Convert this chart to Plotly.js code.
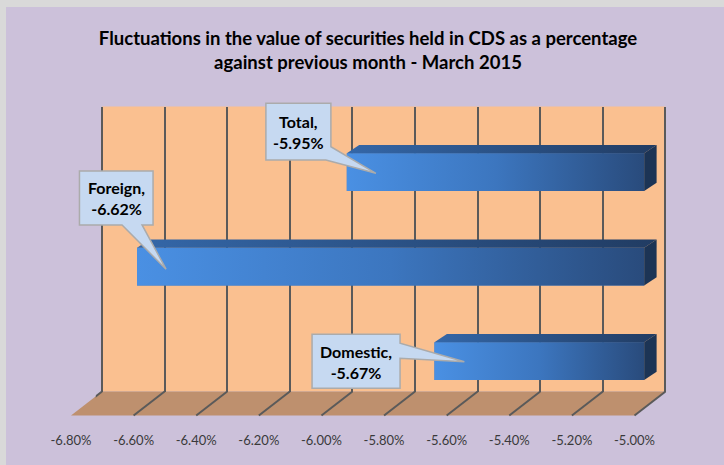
<!DOCTYPE html>
<html><head><meta charset="utf-8">
<script src="https://cdn.plot.ly/plotly-3.0.1.min.js"></script>
<style>html,body{margin:0;padding:0;background:#D9D9D9;}#chart{width:724px;height:465px;}</style>
</head><body><div id="chart"></div>
<script>
// ---- data ----
const categories = ['Domestic', 'Foreign', 'Total'];
const values = [-5.67, -6.62, -5.95];
const tickValues = [-6.8, -6.6, -6.4, -6.2, -6.0, -5.8, -5.6, -5.4, -5.2, -5.0];
const tickLabels = ['-6.80%', '-6.60%', '-6.40%', '-6.20%', '-6.00%', '-5.80%', '-5.60%', '-5.40%', '-5.20%', '-5.00%'];
const titleText = 'Fluctuations in the value of securities held in CDS as a percentage<br>against previous month - March 2015';

// ---- geometry / style (pixels) ----
const W = 724, H = 465;
const fx = p => p / W, fy = p => 1 - p / H;
const XMIN = tickValues[0], XMAX = tickValues[tickValues.length - 1];
const BASE = XMAX;
const WALL = {x0: 102, x1: 665.5, top: 106.5, bottom: 391.5};
const FLOOR = {dx: -31, front: 415.5};
const BARFACE_DX = -21.3;
const DEPTH = {dx: 12.4, dy: 8.3};
const CAT0_PX = 361.2;      // pixel row of first category centre
const PPC = 94.5;           // pixels per category step
const BAR_WIDTH = 0.40;
const PPU = (WALL.x1 - WALL.x0) / (XMAX - XMIN);
const EPS = 0.02;
const PAD = 0.1;
const YRANGE = [-0.6, 3.0];
const faceX = v => WALL.x0 + BARFACE_DX + (v - XMIN) * PPU;
const catY = p => CAT0_PX - p * PPC;

const FONT = 'Lato, "Open Sans", sans-serif';
const GRID = '#5A5A5A';

// callout outlines (px relative to bar's left-centre, y up) and text centres
const calloutPaths = [
  [[-122.4,26.9],[-34.4,26.9],[-34.4,17.9],[29.9,-0.5],[-34.4,2.9],[-34.4,-27.1],[-122.4,-27.1]],
  [[-57.6,95.8],[16,95.8],[16,41.8],[5,41.8],[29,-2.5],[-15,41.8],[-57.6,41.8]],
  [[-80.9,68.9],[-15.9,68.9],[-15.9,25.5],[29.1,-1.1],[-20.9,12.2],[-80.9,12.2]]
];
const calloutText = [[-78.4,-0.6],[-20.8,68.3],[-48.4,40.0]];

const positions = categories.map((c, i) => i);
const ddx = DEPTH.dx / PPU, ddy = DEPTH.dy / PPC;

const traces = [
  {type:'scatter', x:[], y:[], xaxis:'x', yaxis:'y', hoverinfo:'skip', showlegend:false},
  {type:'scatter', x:[], y:[], xaxis:'x2', yaxis:'y2', hoverinfo:'skip', showlegend:false},
  {type:'bar', orientation:'h', y: positions, x: values.map(v => v - BASE), base: BASE,
   width: BAR_WIDTH, xaxis:'x3', yaxis:'y3', marker:{color:'#3D76BE', line:{width:0}},
   text: categories, hoverinfo:'text', textposition:'none', showlegend:false}
];
values.forEach((v, i) => {
  const p = positions[i], yb = p - BAR_WIDTH / 2, yt = p + BAR_WIDTH / 2;
  traces.push({type:'scatter', mode:'lines', xaxis:'x3', yaxis:'y3', line:{width:0}, hoverinfo:'skip', showlegend:false,
    x:[v, BASE, BASE, v, v], y:[yb, yb, yt, yt, yb], fill:'toself',
    fillgradient:{type:'horizontal', colorscale:[[0,'#4A90E3'],[0.5,'#3C76BF'],[1,'#294B7C']]}});
  traces.push({type:'scatter', mode:'lines', xaxis:'x3', yaxis:'y3', line:{width:0}, hoverinfo:'skip', showlegend:false,
    x:[v, v+ddx, BASE+ddx, BASE, v], y:[yt, yt+ddy, yt+ddy, yt, yt], fill:'toself',
    fillgradient:{type:'horizontal', colorscale:[[0,'#3467A8'],[1,'#213C63']]}});
  traces.push({type:'scatter', mode:'lines', xaxis:'x3', yaxis:'y3', line:{width:0}, hoverinfo:'skip', showlegend:false,
    x:[BASE, BASE+ddx, BASE+ddx, BASE, BASE], y:[yt, yt+ddy, yb+ddy, yb, yt], fill:'toself', fillcolor:'#1C3455'});
});

const shapes = [
  {type:'rect', xref:'paper', yref:'paper', x0:fx(6), x1:1, y0:0, y1:fy(7), fillcolor:'#CCC1DA', line:{width:0}, layer:'below'},
  {type:'rect', xref:'x2', yref:'y2 domain', x0:XMIN, x1:XMAX, y0:0, y1:1, fillcolor:'#FAC090', line:{width:0}, layer:'below'},
  {type:'path', xref:'paper', yref:'paper', layer:'below', fillcolor:'#BE906E', line:{width:0},
   path:`M ${fx(WALL.x0)},${fy(WALL.bottom)} L ${fx(WALL.x1)},${fy(WALL.bottom)} L ${fx(WALL.x1 + FLOOR.dx)},${fy(FLOOR.front)} L ${fx(WALL.x0 + FLOOR.dx)},${fy(FLOOR.front)} Z`}
];
tickValues.forEach(t => shapes.push({type:'line', xref:'x2', yref:'paper', layer:'below',
  xsizemode:'pixel', xanchor:t, x0:0, x1:FLOOR.dx, y0:fy(WALL.bottom), y1:fy(FLOOR.front),
  line:{color:GRID, width:2}}));

const annotations = [];
values.forEach((v, i) => {
  const pts = calloutPaths[i];
  shapes.push({type:'path', xref:'x3', yref:'y3', xsizemode:'pixel', ysizemode:'pixel',
    xanchor:v, yanchor:positions[i], layer:'above', fillcolor:'#C6D9F1', line:{color:'#ABABAB', width:1.5},
    path:'M ' + pts.map(q => q[0] + ',' + q[1]).join(' L ') + ' Z'});
  annotations.push({xref:'x3', yref:'y3', x:v, y:positions[i], xshift:calloutText[i][0], yshift:calloutText[i][1],
    showarrow:false, align:'center', text:`<b>${categories[i]},<br>${v.toFixed(2)}%</b>`,
    font:{family:FONT, size:16, color:'#000000'}});
});

const layout = {
  width:W, height:H, margin:{l:0, r:0, t:0, b:0, pad:0},
  paper_bgcolor:'#D9D9D9', plot_bgcolor:'rgba(0,0,0,0)', showlegend:false,
  title:{text:`<b>${titleText}</b>`, font:{family:FONT, size:18.5, color:'#000000'},
    x:fx(368), xanchor:'center', xref:'container', y:fy(45), yanchor:'top', yref:'container'},
  xaxis:{domain:[fx(WALL.x0 + FLOOR.dx - EPS*PPU), fx(WALL.x1 + FLOOR.dx + EPS*PPU)], range:[XMIN-EPS, XMAX+EPS], anchor:'y',
    tickmode:'array', tickvals:tickValues, ticktext:tickLabels, ticks:'', showgrid:false, zeroline:false, showline:false,
    ticklabelstandoff:15, tickfont:{family:FONT, size:13, color:'#3A3A3A'}, fixedrange:true},
  yaxis:{domain:[fy(FLOOR.front), fy(FLOOR.front - 10)], range:[0,1], anchor:'x', showgrid:false, zeroline:false,
    showticklabels:false, ticks:'', fixedrange:true},
  xaxis2:{domain:[fx(WALL.x0 - EPS*PPU), fx(WALL.x1 + EPS*PPU)], range:[XMIN-EPS, XMAX+EPS], anchor:'y2',
    tickmode:'array', tickvals:tickValues, showticklabels:false, ticks:'', showgrid:true, gridcolor:GRID, gridwidth:2,
    zeroline:false, showline:false, fixedrange:true},
  yaxis2:{domain:[fy(WALL.bottom), fy(WALL.top)], range:[0,1], anchor:'x2', showgrid:false, zeroline:false,
    showticklabels:false, ticks:'', fixedrange:true},
  xaxis3:{domain:[fx(faceX(XMIN - PAD)), fx(faceX(XMAX + PAD))], range:[XMIN - PAD, XMAX + PAD], anchor:'y3',
    showgrid:false, zeroline:false, showline:false, showticklabels:false, ticks:'', fixedrange:true},
  yaxis3:{domain:[fy(catY(YRANGE[0])), fy(catY(YRANGE[1]))], range:YRANGE, anchor:'x3',
    showgrid:false, zeroline:false, showline:false, showticklabels:false, ticks:'', fixedrange:true},
  shapes:shapes, annotations:annotations
};

Plotly.newPlot('chart', traces, layout, {displayModeBar:false, staticPlot:true});
</script></body></html>
